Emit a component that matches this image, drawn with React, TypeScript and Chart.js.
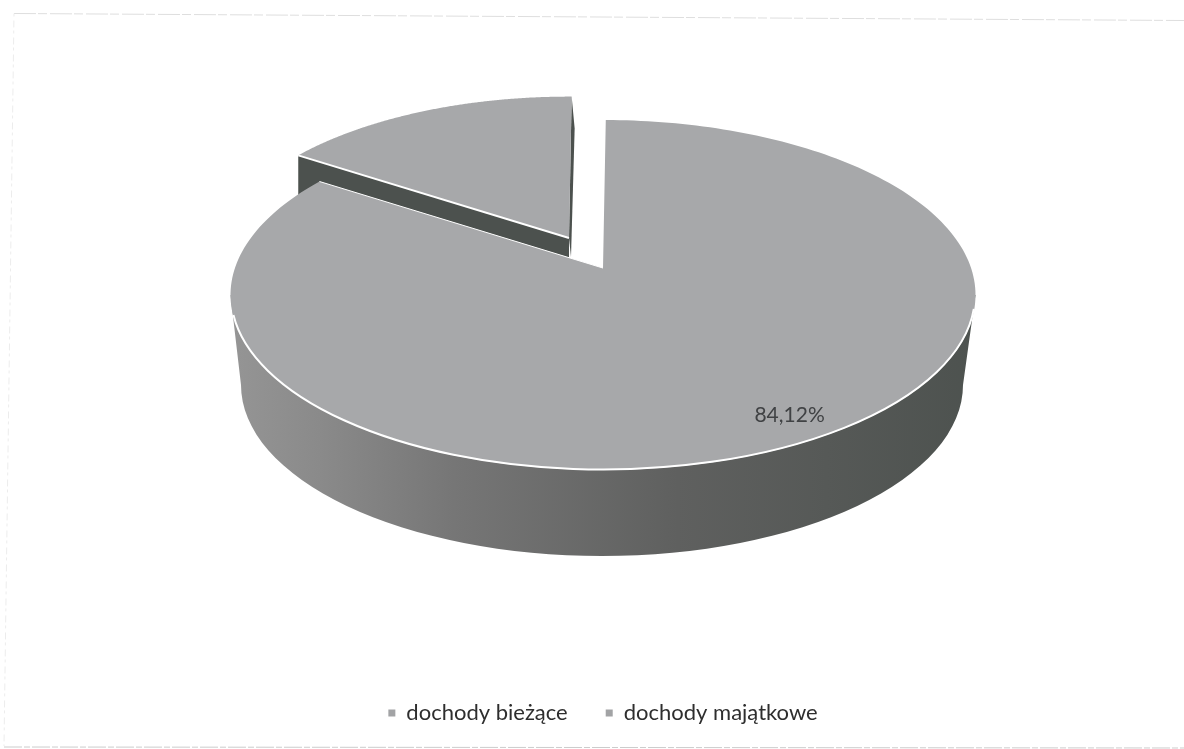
import React, { useEffect, useRef } from "react";
import { Chart, registerables } from "chart.js";

Chart.register(...registerables);

const categories = ["dochody bieżące", "dochody majątkowe"];
const shares = [84.12, 15.88];
const labelledSlices = [0];

const TOP_COLOR = "#a7a8aa";
const FONT = "Lato, Carlito, sans-serif";

// Top face of the disc on screen, and the bottom rim it is extruded down to.
const top = { cx: 603, cy: 295, rx: 372.5, ry: 175 };
const rim = { cx: 602, cy: 385, rx: 361, ry: 171 };
// Perspective shift of the pie centre along the disc's depth axis.
const tilt = 0.154;
// Pulled-out slice: scale about the centre, then move the centre here.
const explode = { scale: 0.955, x: 569, y: 238 };

type Pt = { x: number; y: number };

// Projects polar disc coordinates onto the tilted top face.
function project(angle: number, r: number): Pt {
  const X = Math.cos(angle) * r;
  const Y = -Math.sin(angle) * r;
  const d = 1 + tilt * Y;
  return {
    x: top.cx + (top.rx * X * Math.sqrt(1 - tilt * tilt)) / d,
    y: top.cy - (top.ry * (Y + tilt)) / d,
  };
}

const apex = project(0, 0);

function pulled(p: Pt): Pt {
  return {
    x: explode.x + explode.scale * (p.x - apex.x),
    y: explode.y + explode.scale * (p.y - apex.y),
  };
}

function wedge(start: number, end: number, map: (p: Pt) => Pt): Pt[] {
  const pts: Pt[] = [map(apex)];
  const steps = 240;
  for (let i = 0; i <= steps; i++) {
    pts.push(map(project(start + ((end - start) * i) / steps, 1)));
  }
  return pts;
}

function trace(ctx: CanvasRenderingContext2D, pts: Pt[]) {
  ctx.beginPath();
  pts.forEach((p, i) => (i ? ctx.lineTo(p.x, p.y) : ctx.moveTo(p.x, p.y)));
  ctx.closePath();
}

function rule(ctx: CanvasRenderingContext2D, a: Pt, b: Pt, color: string) {
  ctx.strokeStyle = color;
  ctx.beginPath();
  ctx.moveTo(a.x, a.y);
  ctx.lineTo(b.x, b.y);
  ctx.stroke();
}

const tiltedPie = {
  id: "tiltedPie",
  beforeDraw(chart: Chart) {
    const { ctx } = chart;
    ctx.save();
    ctx.lineWidth = 1;
    ctx.setLineDash([22, 2, 9, 3]);
    rule(ctx, { x: 14, y: 13.5 }, { x: 1184, y: 20.5 }, "#dedede");
    ctx.setLineDash([3, 4, 7, 3]);
    rule(ctx, { x: 14, y: 13.5 }, { x: 4, y: 746 }, "#ececec");
    ctx.setLineDash([18, 2, 6, 2]);
    rule(ctx, { x: 4, y: 747 }, { x: 1184, y: 748 }, "#cccccc");
    ctx.restore();
  },
  // The arcs are painted here so their angles can go through the perspective projection.
  beforeDatasetsDraw(chart: Chart) {
    const { ctx } = chart;
    const arcs = chart.getDatasetMeta(0).data as any[];
    const [main, slice] = arcs;
    const id = (p: Pt) => p;
    ctx.save();

    // Pulled-out slice: its two cut faces first, then its top.
    const sliceTop = wedge(slice.startAngle, slice.endAngle, pulled);
    const corner = sliceTop[1];
    const far = sliceTop[sliceTop.length - 1];
    const tip = sliceTop[0];

    ctx.fillStyle = "#4c514e";
    trace(ctx, [corner, tip, { x: tip.x, y: tip.y + 80 }, { x: corner.x, y: corner.y + 80 }]);
    ctx.fill();
    trace(ctx, [far, tip, { x: tip.x + 2, y: tip.y + 19 }, { x: far.x + 3, y: far.y + 32 }]);
    ctx.fill();

    ctx.fillStyle = TOP_COLOR;
    trace(ctx, sliceTop);
    ctx.fill();
    ctx.strokeStyle = "#ffffff";
    ctx.lineWidth = 2;
    ctx.beginPath();
    ctx.moveTo(corner.x, corner.y);
    ctx.lineTo(tip.x, tip.y);
    ctx.stroke();

    // Curved wall of the large slice.
    const wall = ctx.createLinearGradient(top.cx - top.rx, 0, top.cx + top.rx, 0);
    wall.addColorStop(0, "#959595");
    wall.addColorStop(0.12, "#8a8a8a");
    wall.addColorStop(0.3, "#767676");
    wall.addColorStop(0.6, "#5f605f");
    wall.addColorStop(1, "#4d524f");
    ctx.fillStyle = wall;
    ctx.beginPath();
    ctx.moveTo(top.cx - top.rx, top.cy);
    ctx.lineTo(rim.cx - rim.rx, rim.cy);
    ctx.ellipse(rim.cx, rim.cy, rim.rx, rim.ry, 0, Math.PI, 0, true);
    ctx.lineTo(top.cx + top.rx, top.cy);
    ctx.closePath();
    ctx.fill();

    // Top of the large slice with its light edges.
    const mainTop = wedge(main.startAngle, main.endAngle, id);
    ctx.fillStyle = TOP_COLOR;
    trace(ctx, mainTop);
    ctx.fill();
    ctx.strokeStyle = "#ffffff";
    ctx.lineWidth = 1;
    ctx.beginPath();
    ctx.moveTo(mainTop[mainTop.length - 1].x, mainTop[mainTop.length - 1].y);
    ctx.lineTo(mainTop[0].x, mainTop[0].y);
    ctx.stroke();
    ctx.lineWidth = 2;
    ctx.beginPath();
    ctx.ellipse(top.cx, top.cy, top.rx - 0.5, top.ry - 0.5, 0, 0.08, Math.PI - 0.115);
    ctx.stroke();

    // Value labels sit near the outer edge, along each slice's middle angle.
    ctx.fillStyle = "#404244";
    ctx.font = `21px ${FONT}`;
    ctx.textAlign = "center";
    ctx.textBaseline = "middle";
    labelledSlices.forEach((i) => {
      const a = arcs[i];
      const at = project((a.startAngle + a.endAngle) / 2 - 0.042, 0.882);
      ctx.fillText(`${shares[i].toFixed(2).replace(".", ",")}%`, at.x, at.y);
    });

    ctx.restore();
    return false;
  },
};

export default function App() {
  const ref = useRef<HTMLCanvasElement>(null);

  useEffect(() => {
    if (!ref.current) return;
    const chart = new Chart(ref.current, {
      type: "pie",
      data: {
        labels: categories,
        datasets: [
          {
            data: shares,
            backgroundColor: ["#a2a3a5", "#a2a3a5"],
            borderWidth: 0,
          },
        ],
      },
      options: {
        responsive: false,
        animation: false,
        rotation: 0.5,
        layout: { padding: { bottom: 15, left: 22 } },
        plugins: {
          tooltip: { enabled: false },
          legend: {
            position: "bottom",
            labels: {
              boxWidth: 7,
              boxHeight: 7,
              padding: 38,
              color: "#2e2e2e",
              font: { family: FONT, size: 22 },
            },
          },
        },
      },
      plugins: [tiltedPie],
    });
    return () => chart.destroy();
  }, []);

  return (
    <div style={{ position: "absolute", left: 0, top: 0, width: 1184, height: 749, background: "#ffffff" }}>
      <canvas ref={ref} width={1184} height={749} style={{ display: "block" }} />
    </div>
  );
}
